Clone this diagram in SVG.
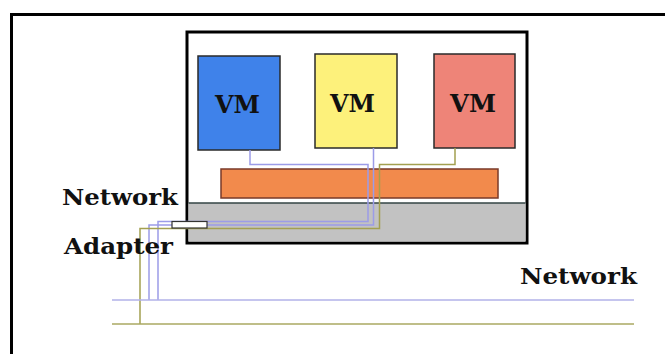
<svg xmlns="http://www.w3.org/2000/svg" width="665" height="354" viewBox="0 0 665 354">
<style>
.vm{stroke:#2a2a2a;stroke-width:1.5}
.lbl{font-family:"DejaVu Serif","Liberation Serif",serif;font-weight:bold;fill:#111}
.vmt{font-family:"DejaVu Serif","Liberation Serif",serif;font-weight:bold;font-size:25px;fill:#111}
.wb{fill:none;stroke:#9c9ce8;stroke-width:1.5}
.wo{fill:none;stroke:#a3a050;stroke-width:1.5}
</style>
<rect width="665" height="354" fill="#fff"/>
<path d="M11.5,354 V14.5 H665" fill="none" stroke="#000" stroke-width="3"/>
<g id="host">
<rect x="187" y="32" width="340" height="211" fill="#fff" stroke="#000" stroke-width="3"/>
<rect x="188.5" y="203" width="337" height="38.5" fill="#c2c2c2"/>
<line x1="188.5" y1="203" x2="525.5" y2="203" stroke="#344" stroke-width="1.5"/>
</g>
<g id="hypervisor">
<rect x="221" y="169" width="277" height="29" fill="#f28a4c" stroke="#7a3a28" stroke-width="1.5"/>
</g>
<g id="vm1">
<rect class="vm" x="198" y="56" width="82" height="94" fill="#3f82ea"/>
<text class="vmt" x="215" y="113" textLength="45" lengthAdjust="spacingAndGlyphs">VM</text>
</g>
<g id="vm2">
<rect class="vm" x="315" y="54" width="82" height="94" fill="#fdf17b"/>
<text class="vmt" x="330" y="112" textLength="45" lengthAdjust="spacingAndGlyphs">VM</text>
</g>
<g id="vm3">
<rect class="vm" x="434" y="54" width="81" height="94" fill="#ee8478"/>
<text class="vmt" x="450" y="112" textLength="46" lengthAdjust="spacingAndGlyphs">VM</text>
</g>
<g id="connectors">
<path class="wb" d="M250,150 V164.5 H368 V221.5 H158 V300"/>
<path class="wb" d="M373.5,148 V225 H149 V300"/>
<path class="wo" d="M455,148 V164.5 H379.5 V228.5 H140 V324"/>
<line x1="112" y1="300" x2="634" y2="300" stroke="#b2b2e8" stroke-width="1.5"/>
<line x1="112" y1="324" x2="634" y2="324" stroke="#aaa862" stroke-width="1.5"/>
</g>
<g id="adapter">
<rect x="172" y="221.5" width="35" height="6.5" fill="#fff" stroke="#333" stroke-width="1.2"/>
</g>
<g id="labels">
<text class="lbl" x="62" y="205" font-size="23" textLength="116" lengthAdjust="spacingAndGlyphs">Network</text>
<text class="lbl" x="64" y="254" font-size="23" textLength="109" lengthAdjust="spacingAndGlyphs">Adapter</text>
<text class="lbl" x="520" y="284" font-size="23" textLength="117" lengthAdjust="spacingAndGlyphs">Network</text>
</g>
</svg>
